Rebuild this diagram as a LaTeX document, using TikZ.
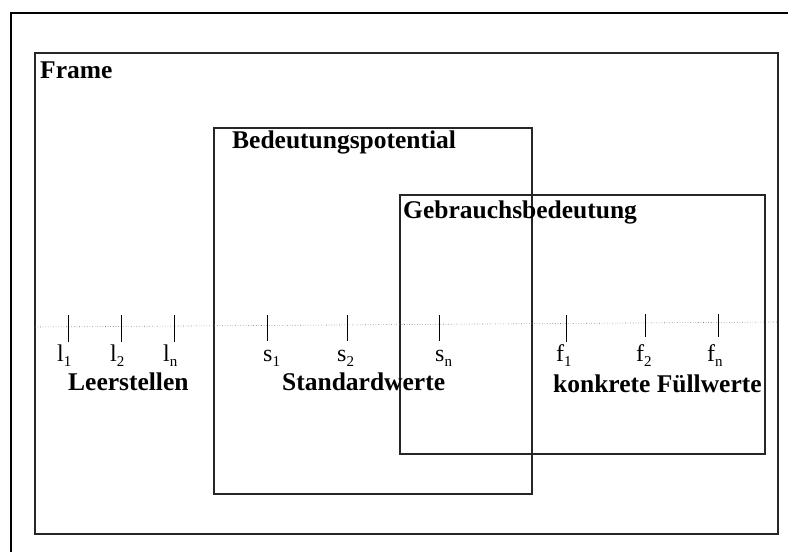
\documentclass[tikz,border=0pt]{standalone}
\usepackage{fontspec}
\setmainfont{Liberation Serif}
\newcommand{\lowsub}[1]{\raisebox{-5pt}{\fontsize{15}{15}\selectfont #1}}
\begin{document}
\begin{tikzpicture}[x=1pt,y=-1pt,
  box/.style={draw=black!85,line width=1.2pt},
  title/.style={anchor=base west,inner sep=0pt,font=\fontsize{25.5}{30}\selectfont\bfseries},
  sublabel/.style={anchor=base west,inner sep=0pt,font=\fontsize{24}{28}\selectfont},
  tick/.style={draw=black,line width=0.9pt}]
\useasboundingbox (0,0) rectangle (788,552);
% page edge
\draw[line width=2pt] (788,13) -- (11,13) -- (11,552);
% nested regions
\draw[box] (35,53) rectangle (778,534);
\draw[box] (214,128) rectangle (532,494);
\draw[box] (400,195) rectangle (765,454);
\node[title] (frame) at (40,78) {Frame};
\node[title] (bp) at (232,148) {Bedeutungspotential};
\node[title] (gb) at (403,218) {Gebrauchsbedeutung};
% axis
\coordinate (axl) at (35,327);
\coordinate (axr) at (778,322);
\draw[black!55,dotted,line width=0.6pt] (axl) -- (axr);
% ticks
\foreach \n/\x/\t/\b in {l1/68/315/342,l2/121/315/342,ln/174/315/342,
  s1/267/315/341,s2/347/315/341,sn/439/315/341,
  f1/566/315/342,f2/645/314/337,fn/718/314/337}{
  \coordinate (\n t) at (\x,\t);
  \coordinate (\n b) at (\x,\b);
  \draw[tick] (\n t) -- (\n b);
}
% tick labels
\node[sublabel] (l1) at (57,361) {l\lowsub{1}};
\node[sublabel] (l2) at (110,361) {l\lowsub{2}};
\node[sublabel] (ln) at (163,361) {l\lowsub{n}};
\node[sublabel] (s1) at (263,361) {s\lowsub{1}};
\node[sublabel] (s2) at (337,361) {s\lowsub{2}};
\node[sublabel] (sn) at (435,361) {s\lowsub{n}};
\node[sublabel] (f1) at (556,361) {f\lowsub{1}};
\node[sublabel] (f2) at (636,361) {f\lowsub{2}};
\node[sublabel] (fn) at (707,361) {f\lowsub{n}};
% group labels
\node[title] (leer) at (68,390) {Leerstellen};
\node[title] (std) at (282,390) {Standardwerte};
\node[title] (fuell) at (553,392) {konkrete Füllwerte};
\end{tikzpicture}
\end{document}
